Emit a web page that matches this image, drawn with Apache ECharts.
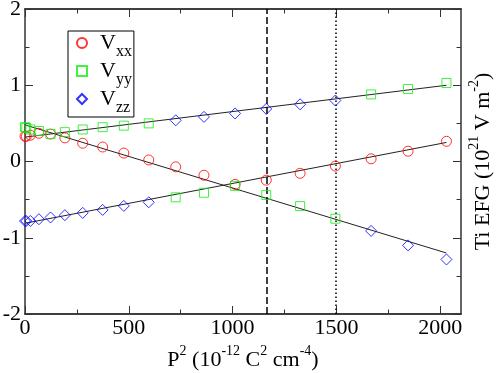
<!DOCTYPE html>
<html>
<head>
<meta charset="utf-8">
<script src="https://cdn.jsdelivr.net/npm/echarts@6.0.0/dist/echarts.min.js"></script>
<style>
html, body { margin: 0; padding: 0; background: #fff; }
#chart { width: 498px; height: 373px; }
</style>
</head>
<body>
<div id="chart"></div>
<script>
// P^2 values (10^-12 C^2 cm^-4)
const p2 = [0, 6, 26, 67, 123, 192, 278, 374, 476, 596, 726, 862, 1012, 1162, 1325, 1495, 1667, 1845, 2030];
// EFG components (10^21 V m^-2)
const vxx = [0.33, 0.33, 0.345, 0.37, 0.36, 0.31, 0.24, 0.19, 0.11, 0.02, -0.07, -0.18, -0.30, -0.245, -0.155, -0.06, 0.035, 0.135, 0.265];
const vyy = [0.45, 0.44, 0.42, 0.40, 0.36, 0.385, 0.42, 0.45, 0.47, 0.50, -0.47, -0.41, -0.32, -0.44, -0.585, -0.75, 0.88, 0.95, 1.03];
const vzz = [-0.78, -0.78, -0.78, -0.757, -0.734, -0.704, -0.674, -0.635, -0.582, -0.535, 0.54, 0.585, 0.63, 0.69, 0.75, 0.80, -0.91, -1.10, -1.285];

// fitted straight lines (end points)
const fitX = [0, 2030];
const fitUpper = [0.32, 1.0];
const fitDown = [0.48, -1.20];
const fitLower = [-0.81, 0.25];

// vertical marker lines
const dashedAt = 1165;
const dottedAt = 1495;

// ticks
const xMajor = [0, 500, 1000, 1500, 2000];
const xMinor = [250, 750, 1250, 1750];

const font = 'Liberation Serif';
const axisColor = '#333';

const pairs = (xs, ys) => xs.map((x, i) => [x, ys[i]]);

const chart = echarts.init(document.getElementById('chart'));

const tickX = (vals, len, pos, showName) => ({
  type: 'value',
  position: pos,
  min: 0,
  max: 2100,
  axisLine: { show: true, onZero: false, lineStyle: { color: axisColor, width: 1.5 } },
  axisTick: { show: true, inside: true, length: len, customValues: vals, lineStyle: { color: axisColor, width: 1 } },
  axisLabel: {
    show: showName,
    customValues: xMajor,
    formatter: v => String(v),
    fontSize: 22, fontFamily: font, color: '#000', margin: 3
  },
  splitLine: { show: false },
  name: showName ? '{t|P}{sup|2}{t| (10}{sup|-12}{t| C}{sup|2}{t| cm}{sup|-4}{t|)}' : '',
  nameLocation: 'middle',
  nameGap: 30,
  nameTextStyle: {
    rich: {
      t: { fontSize: 22, fontFamily: font, color: '#000', lineHeight: 24, verticalAlign: 'bottom' },
      sup: { fontSize: 14, fontFamily: font, color: '#000', lineHeight: 14, verticalAlign: 'bottom', padding: [0, 0, 13, 0] }
    }
  }
});

const yAx = (pos, showLabel) => ({
  type: 'value',
  position: pos,
  min: -2,
  max: 2,
  interval: 1,
  axisLine: { show: true, onZero: false, lineStyle: { color: axisColor, width: 1.5 } },
  axisTick: { show: true, inside: true, length: 8, lineStyle: { color: axisColor, width: 1 } },
  minorTick: { show: true, splitNumber: 2, length: 4.5, lineStyle: { color: axisColor, width: 1 } },
  axisLabel: { show: showLabel, fontSize: 22, fontFamily: font, color: '#000', margin: 4 },
  splitLine: { show: false },
  minorSplitLine: { show: false },
  name: showLabel ? '' : '{t|Ti EFG (10}{sup|21}{t| V m}{sup|-2}{t|)}',
  nameLocation: 'middle',
  nameRotate: 90,
  nameGap: 9,
  nameTextStyle: {
    rich: {
      t: { fontSize: 22, fontFamily: font, color: '#000', lineHeight: 24, verticalAlign: 'bottom' },
      sup: { fontSize: 14, fontFamily: font, color: '#000', lineHeight: 14, verticalAlign: 'bottom', padding: [0, 0, 13, 0] }
    }
  }
});

const markers = (name, symbol, size, color, ys) => ({
  name: name,
  type: 'scatter',
  symbol: symbol,
  symbolSize: size,
  data: pairs(p2, ys),
  itemStyle: { color: 'transparent', borderColor: color, borderWidth: 1 },
  emphasis: { disabled: true },
  z: 5
});

const fitLine = (ys, extra) => Object.assign({
  type: 'line',
  data: pairs(fitX, ys),
  symbol: 'none',
  silent: true,
  lineStyle: { color: '#222', width: 1 },
  emphasis: { disabled: true },
  z: 3
}, extra || {});

const option = {
  animation: false,
  backgroundColor: '#fff',
  grid: { left: 25, right: 37, top: 9, bottom: 59, containLabel: false, outerBoundsMode: 'none' },
  legend: {
    data: ['Vxx', 'Vyy', 'Vzz'],
    orient: 'vertical',
    left: 68,
    top: 31,
    padding: [1, 2, 1, 8],
    itemGap: 0,
    itemWidth: 10,
    itemHeight: 10,
    borderColor: '#000',
    borderWidth: 1,
    borderRadius: 0,
    selectedMode: false,
    formatter: name => '{v|V}{s|' + name.slice(1) + '}',
    textStyle: {
      rich: {
        v: { fontSize: 22, fontFamily: font, color: '#000', lineHeight: 22, verticalAlign: 'top', padding: [0, 0, 6, 8] },
        s: { fontSize: 16, fontFamily: font, color: '#000', lineHeight: 16, verticalAlign: 'top', padding: [12, 0, 0, 0] }
      }
    }
  },
  xAxis: [
    tickX(xMajor, 8, 'bottom', true),
    tickX(xMinor, 4.5, 'bottom', false),
    tickX(xMajor, 8, 'top', false),
    tickX(xMinor, 4.5, 'top', false)
  ],
  yAxis: [yAx('left', true), yAx('right', false)],
  series: [
    fitLine(fitUpper, {
      markLine: {
        silent: true,
        symbol: ['none', 'none'],
        label: { show: false },
        data: [
          { xAxis: dashedAt, lineStyle: { type: [7, 3], color: '#000', width: 1.5 } },
          { xAxis: dottedAt, lineStyle: { type: [1.5, 2.5], color: '#000', width: 1.5 } }
        ]
      }
    }),
    fitLine(fitDown),
    fitLine(fitLower),
    markers('Vxx', 'circle', 10, '#ff0000', vxx),
    markers('Vyy', 'rect', 9, '#11ee11', vyy),
    markers('Vzz', 'diamond', 11, '#0000ff', vzz)
  ]
};

chart.setOption(option);
</script>
</body>
</html>
